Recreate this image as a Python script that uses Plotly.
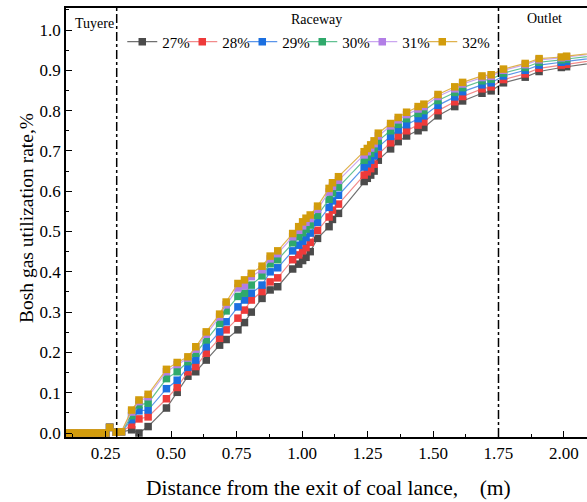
import plotly.graph_objects as go

FONT = "Liberation Serif"

# ---------------- data ----------------
x = [0.100, 0.115, 0.130, 0.145, 0.160, 0.175, 0.190, 0.205, 0.220, 0.235, 0.250,
     0.265, 0.290, 0.310, 0.349, 0.377, 0.412, 0.482, 0.523, 0.564, 0.594, 0.634,
     0.685, 0.710, 0.755, 0.780, 0.806, 0.847, 0.878, 0.907, 0.964, 0.987, 1.002,
     1.015, 1.031, 1.059, 1.103, 1.116, 1.139, 1.237, 1.249, 1.262, 1.275, 1.291,
     1.338, 1.367, 1.399, 1.443, 1.465, 1.519, 1.583, 1.613, 1.687, 1.722, 1.769,
     1.852, 1.905, 1.990, 2.010, 2.150]

start = [0, 0, 0, 0, 0, 0, 0, 0, 0, 0, 0, 0.014, 0.002, 0.003]

s27 = start + [0.008, 0.000, 0.016, 0.062, 0.101, 0.141, 0.152, 0.181, 0.218, 0.232,
               0.256, 0.274, 0.300, 0.334, 0.355, 0.363, 0.407, 0.419, 0.428, 0.436,
               0.450, 0.483, 0.512, 0.530, 0.545, 0.624, 0.632, 0.640, 0.650, 0.677,
               0.705, 0.723, 0.737, 0.750, 0.758, 0.787, 0.810, 0.824, 0.843, 0.849,
               0.869, 0.883, 0.897, 0.907, 0.909, 0.922]
s28 = start + [0.020, 0.035, 0.040, 0.085, 0.113, 0.152, 0.165, 0.198, 0.235, 0.256,
               0.285, 0.305, 0.330, 0.351, 0.375, 0.385, 0.430, 0.442, 0.452, 0.460,
               0.473, 0.503, 0.536, 0.553, 0.568, 0.640, 0.648, 0.656, 0.667, 0.692,
               0.720, 0.737, 0.750, 0.764, 0.772, 0.800, 0.822, 0.835, 0.854, 0.859,
               0.877, 0.891, 0.905, 0.913, 0.915, 0.928]
s29 = start + [0.033, 0.055, 0.057, 0.110, 0.131, 0.163, 0.181, 0.214, 0.251, 0.276,
               0.313, 0.330, 0.347, 0.367, 0.400, 0.410, 0.452, 0.466, 0.476, 0.485,
               0.496, 0.523, 0.560, 0.576, 0.590, 0.660, 0.668, 0.677, 0.688, 0.710,
               0.736, 0.752, 0.765, 0.780, 0.787, 0.813, 0.834, 0.847, 0.864, 0.869,
               0.886, 0.900, 0.913, 0.920, 0.922, 0.933]
s30 = start + [0.043, 0.070, 0.074, 0.135, 0.152, 0.177, 0.198, 0.231, 0.272, 0.303,
               0.339, 0.347, 0.367, 0.390, 0.420, 0.430, 0.472, 0.487, 0.497, 0.506,
               0.516, 0.540, 0.580, 0.596, 0.610, 0.677, 0.685, 0.694, 0.705, 0.725,
               0.750, 0.766, 0.780, 0.793, 0.800, 0.825, 0.845, 0.857, 0.874, 0.878,
               0.893, 0.907, 0.920, 0.926, 0.928, 0.939]
s31 = start + [0.052, 0.078, 0.090, 0.152, 0.170, 0.186, 0.208, 0.245, 0.288, 0.318,
               0.360, 0.365, 0.388, 0.405, 0.432, 0.445, 0.487, 0.503, 0.514, 0.523,
               0.532, 0.555, 0.598, 0.612, 0.627, 0.690, 0.698, 0.707, 0.718, 0.737,
               0.762, 0.777, 0.790, 0.804, 0.810, 0.835, 0.854, 0.866, 0.882, 0.885,
               0.900, 0.914, 0.926, 0.931, 0.933, 0.943]
s32 = start + [0.057, 0.082, 0.096, 0.158, 0.175, 0.189, 0.214, 0.251, 0.295, 0.325,
               0.371, 0.380, 0.396, 0.414, 0.439, 0.452, 0.495, 0.512, 0.524, 0.533,
               0.541, 0.563, 0.607, 0.621, 0.636, 0.698, 0.706, 0.715, 0.725, 0.744,
               0.768, 0.783, 0.796, 0.810, 0.816, 0.840, 0.859, 0.870, 0.886, 0.889,
               0.903, 0.917, 0.929, 0.933, 0.935, 0.945]

names = ["27%", "28%", "29%", "30%", "31%", "32%"]
series = [s27, s28, s29, s30, s31, s32]
marker_colors = ["#4b4b4b", "#ee3a3a", "#1b6fe0", "#2fa96b", "#b27ee6", "#d29c0c"]
line_colors = ["#707070", "#f28b8b", "#5a95ea", "#62c192", "#caa6f0", "#dfb24e"]

zone_x = [0.292, 1.75]
zone_labels = ["Tuyere", "Raceway", "Outlet"]
zone_label_x = [0.209, 1.055, 1.927]
zone_label_y = [0.965, 0.974, 0.976]

xticks = [0.25, 0.50, 0.75, 1.00, 1.25, 1.50, 1.75, 2.00]
yticks = [0.0, 0.1, 0.2, 0.3, 0.4, 0.5, 0.6, 0.7, 0.8, 0.9, 1.0]

# ---------------- figure ----------------
fig = go.Figure()
for name, ys, mc, lc in zip(names, series, marker_colors, line_colors):
    fig.add_trace(go.Scatter(
        x=x, y=ys, name=name, mode="lines+markers",
        line=dict(color=lc, width=1.2),
        marker=dict(symbol="square", size=7.5, color=mc, line=dict(width=0)),
    ))

# empty spacer entry so the last legend label is not clipped
fig.add_trace(go.Scatter(x=[None], y=[None], name="\u00a0", mode="lines",
                         line=dict(color="rgba(0,0,0,0)", width=0),
                         hoverinfo="skip"))

for zx in zone_x:
    fig.add_shape(type="line", x0=zx, x1=zx, y0=0, y1=1, xref="x", yref="paper",
                  line=dict(color="black", width=1.5, dash="dashdot"))

for lab, lx, ly in zip(zone_labels, zone_label_x, zone_label_y):
    fig.add_annotation(x=lx, y=ly, xref="x", yref="paper", text=lab,
                       showarrow=False, xanchor="center", yanchor="middle",
                       font=dict(family=FONT, size=14, color="black"))

fig.add_annotation(x=0.503, y=-0.12, xref="paper", yref="paper",
                   text="Distance from the exit of coal lance,\u00a0\u00a0\u00a0\u00a0(m)",
                   showarrow=False, xanchor="center", yanchor="middle",
                   font=dict(family=FONT, size=21.5, color="black"))
fig.add_annotation(x=-0.077, y=0.51, xref="paper", yref="paper",
                   text="Bosh gas utilization rate,%", textangle=-90,
                   showarrow=False, xanchor="center", yanchor="middle",
                   font=dict(family=FONT, size=19.5, color="black"))

fig.update_layout(
    width=587, height=502,
    margin=dict(l=66, r=0, t=8, b=65),
    paper_bgcolor="white", plot_bgcolor="white",
    font=dict(family=FONT, size=17, color="black"),
    showlegend=True,
    legend=dict(orientation="h", x=0.108, y=0.921, xanchor="left", yanchor="middle",
                font=dict(family=FONT, size=15), bgcolor="rgba(0,0,0,0)",
                entrywidth=15, entrywidthmode="pixels", tracegroupgap=0),
    xaxis=dict(range=[0.0984, 2.088], tickvals=xticks, tickformat=".2f",
               showgrid=False, zeroline=False, showline=True, linecolor="black",
               linewidth=1.5, mirror=True, ticks="inside", ticklen=6, tickwidth=1.2,
               tickcolor="black",
               minor=dict(ticks="inside", ticklen=3, dtick=0.125, tickcolor="black",
                          tickwidth=1.2),
               tickfont=dict(family=FONT, size=17)),
    yaxis=dict(range=[-0.0099, 1.0546], tickvals=yticks, tickformat=".1f",
               showgrid=False, zeroline=False, showline=True, linecolor="black",
               linewidth=1.5, mirror=False, ticks="inside", ticklen=6, tickwidth=1.2,
               tickcolor="black",
               minor=dict(ticks="inside", ticklen=3, dtick=0.05, tickcolor="black",
                          tickwidth=1.2),
               tickfont=dict(family=FONT, size=17)),
)

fig.write_html("out.html")
